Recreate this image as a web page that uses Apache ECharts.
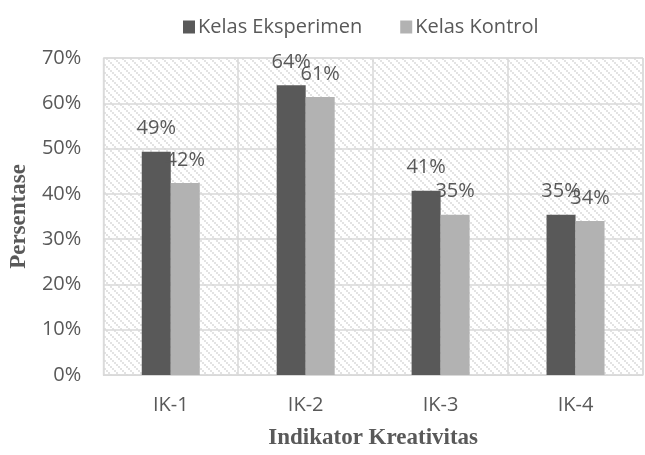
<!DOCTYPE html>
<html>
<head>
<meta charset="utf-8">
<script src="https://cdn.jsdelivr.net/npm/echarts@6/dist/echarts.min.js"></script>
<style>
  html, body { margin: 0; padding: 0; background: #fff; }
  #chart { width: 645px; height: 455px; }
</style>
</head>
<body>
<div id="chart"></div>
<script>
const categories = ['IK-1', 'IK-2', 'IK-3', 'IK-4']
const eksperimen = [49.3, 64.0, 40.7, 35.4]
const kontrol = [42.4, 61.4, 35.4, 34.0]
const seriesNames = ['Kelas Eksperimen', 'Kelas Kontrol']

// hatch pattern for plot background
function hatch() {
  const c = document.createElement('canvas')
  c.width = 8
  c.height = 8
  const ctx = c.getContext('2d')
  ctx.fillStyle = '#fff'
  ctx.fillRect(0, 0, 8, 8)
  ctx.fillStyle = '#e3e3e3'
  for (let i = 0; i < 8; i += 2) {
    ctx.fillRect(i, i, 2, 2)
  }
  return c
}

const chart = echarts.init(document.getElementById('chart'))
const textColor = '#595959'
const labelStyle = {
  show: true,
  position: 'top',
  distance: 13,
  color: textColor,
  fontSize: 20,
  fontFamily: 'Open Sans',
  formatter: p => Math.round(p.value) + '%'
}

chart.setOption({
  animation: false,
  legend: {
    left: 178,
    top: 12,
    itemWidth: 12,
    itemHeight: 13,
    itemGap: 38,
    icon: 'rect',
    textStyle: { color: textColor, fontSize: 20, fontFamily: 'Open Sans', padding: [0, 0, 0, -2] },
    data: seriesNames
  },
  grid: {
    left: 96,
    right: 2,
    top: 58,
    bottom: 63,
    show: true,
    borderColor: '#d9d9d9',
    borderWidth: 1,
    backgroundColor: { image: hatch(), repeat: 'repeat' }
  },
  xAxis: {
    type: 'category',
    data: categories,
    name: 'Indikator Kreativitas',
    nameLocation: 'middle',
    nameGap: 52,
    nameTextStyle: { color: textColor, fontSize: 23, fontWeight: 'bold', fontFamily: 'Liberation Serif' },
    axisLine: { lineStyle: { color: '#d9d9d9', width: 1 } },
    axisTick: { show: false },
    axisLabel: { color: textColor, fontSize: 20, fontFamily: 'Open Sans', margin: 20 },
    splitLine: { show: true, lineStyle: { color: '#d9d9d9', width: 1.5 } }
  },
  yAxis: {
    type: 'value',
    min: 0,
    max: 70,
    interval: 10,
    name: 'Persentase',
    nameLocation: 'middle',
    nameGap: 64,
    nameTextStyle: { color: textColor, fontSize: 23, fontWeight: 'bold', fontFamily: 'Liberation Serif' },
    axisLine: { show: false },
    axisTick: { show: false },
    axisLabel: { color: textColor, fontSize: 20, fontFamily: 'Open Sans', margin: 22, formatter: v => v + '%' },
    splitLine: { lineStyle: { color: '#d9d9d9', width: 1.5 } }
  },
  series: [
    {
      name: seriesNames[0],
      type: 'bar',
      data: eksperimen,
      barWidth: 29,
      barGap: '0%',
      itemStyle: { color: '#595959' },
      label: labelStyle
    },
    {
      name: seriesNames[1],
      type: 'bar',
      data: kontrol,
      barWidth: 29,
      barGap: '0%',
      itemStyle: { color: '#b2b2b2' },
      label: labelStyle
    }
  ]
})
</script>
</body>
</html>
